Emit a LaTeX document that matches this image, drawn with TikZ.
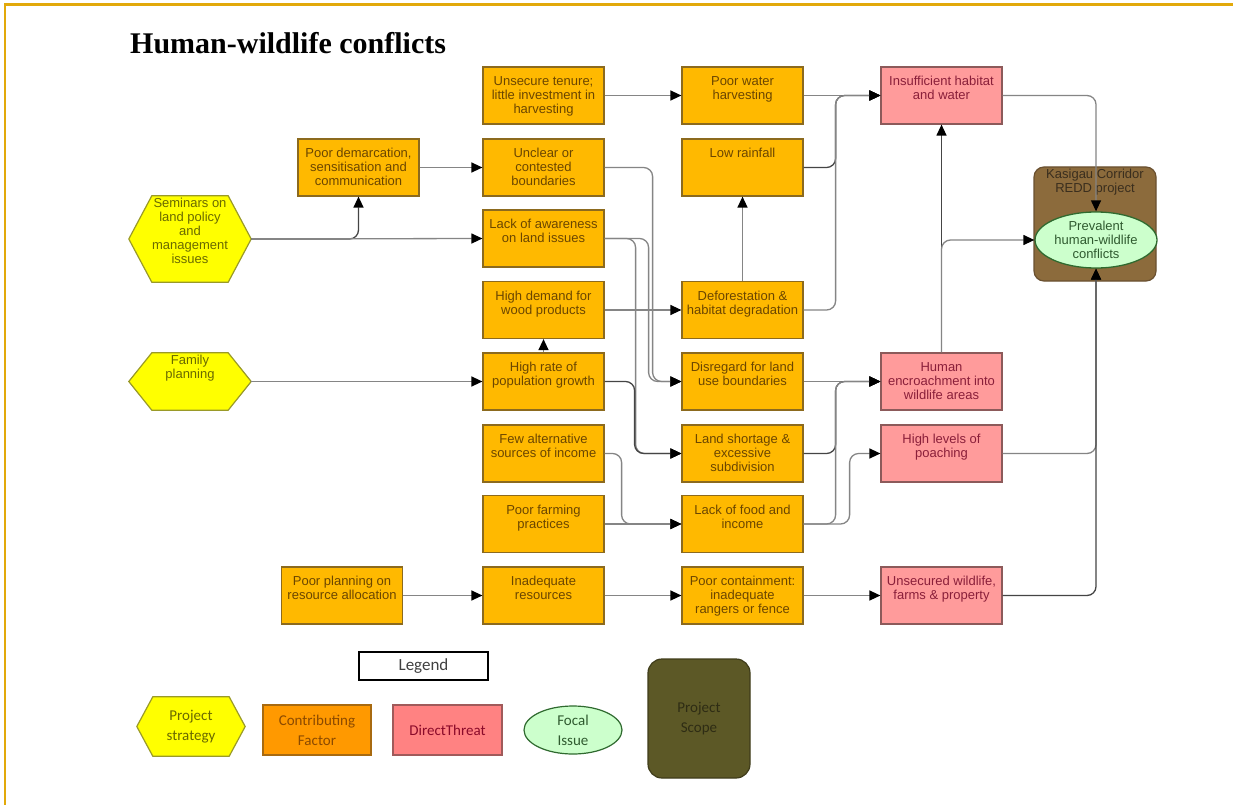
\documentclass[tikz,border=0pt]{standalone}
\usepackage{fontspec}
\setmainfont{Liberation Sans}
\newfontfamily\calf{Carlito}
\newfontfamily\titlef{Liberation Serif}
\usetikzlibrary{arrows.meta,shapes.geometric}
\pgfdeclarelayer{bgw}
\pgfdeclarelayer{bg}
\pgfsetlayers{bgw,bg,main}
\definecolor{orfill}{HTML}{FFB900}
\definecolor{orline}{HTML}{8C6A1E}
\definecolor{ortext}{HTML}{6B4600}
\definecolor{pkfill}{HTML}{FF9B9B}
\definecolor{pkline}{HTML}{8C5A5A}
\definecolor{pktext}{HTML}{8A1F3A}
\definecolor{hxfill}{HTML}{FFFF00}
\definecolor{hxline}{HTML}{9A9A28}
\definecolor{hxtext}{HTML}{6A6A00}
\definecolor{kbfill}{HTML}{8C6B3C}
\definecolor{kbline}{HTML}{6A5030}
\definecolor{kbtext}{HTML}{3A2E1E}
\definecolor{elfill}{HTML}{CCFFCC}
\definecolor{elline}{HTML}{2F6A2F}
\definecolor{eltext}{HTML}{2F5A2F}
\definecolor{conncol}{HTML}{858585}
\definecolor{darkconn}{HTML}{454545}
\definecolor{goldc}{HTML}{E2A90A}
\definecolor{lgor}{HTML}{FF9900}
\definecolor{lgorl}{HTML}{A86A10}
\definecolor{lgort}{HTML}{8B4A00}
\definecolor{lgpk}{HTML}{FF8282}
\definecolor{lgpkl}{HTML}{A05A5A}
\definecolor{lgpkt}{HTML}{8B0A2A}
\definecolor{lgsc}{HTML}{5C5826}
\definecolor{lgscl}{HTML}{3F3C1A}
\definecolor{lgsct}{HTML}{2E2C14}
\newcommand\bxt[1]{\parbox[c][57pt][t]{121pt}{\centering\rule{0pt}{18.5pt}#1}}
\newcommand\hexpath[2]{%
 \begin{pgfonlayer}{bg}
 \draw[hexdraw] (#1.west) -- ([xshift=#2]#1.north west) -- ([xshift=-#2]#1.north east) -- (#1.east) -- ([xshift=-#2]#1.south east) -- ([xshift=#2]#1.south west) -- cycle;
 \end{pgfonlayer}}
\begin{document}
\begin{tikzpicture}[x=1pt,y=-1pt,
 box/.style={draw=orline, fill=orfill, line width=1.2pt, inner sep=0pt, minimum width=121pt, minimum height=57pt, text=ortext, font=\fontsize{13}{14}\selectfont},
 pbox/.style={box, draw=pkline, fill=pkfill, text=pktext},
 hexn/.style={inner sep=0pt, minimum width=122pt, text=hxtext, font=\fontsize{13}{14}\selectfont},
 hexdraw/.style={draw=hxline, fill=hxfill, line width=1.2pt},
 conn/.style={draw=conncol, line width=1.3pt, rounded corners=9pt, -{Triangle[length=11pt,width=10pt,color=black]}},
 dconn/.style={conn, draw=darkconn},
 lgtext/.style={font=\calf\fontsize{15}{20}\selectfont, align=center, inner sep=0pt}
]
\begin{pgfonlayer}{bgw}
\fill[white] (0,0) rectangle (1233,805);
\end{pgfonlayer}
\useasboundingbox (0,0) rectangle (1233,805);
\draw[goldc, line width=2.5pt] (5,805) -- (5,4.5) -- (1233,4.5);

\node[anchor=base west, inner sep=0pt, font=\titlef\bfseries\fontsize{30}{32}\selectfont] (title) at (130,54) {Human-wildlife conflicts};

% factor boxes
\node[box] (ten) at (543.5,95.5) {\bxt{Unsecure tenure;\\little investment in\\harvesting}};
\node[box] (pwh) at (742.5,95.5) {\bxt{Poor water\\harvesting}};
\node[pbox] (ins) at (941.5,95.5) {\bxt{Insufficient habitat\\and water}};
\node[box] (dem) at (358.5,167.5) {\bxt{Poor demarcation,\\sensitisation and\\communication}};
\node[box] (unc) at (543.5,167.5) {\bxt{Unclear or\\contested\\boundaries}};
\node[box] (low) at (742.5,167.5) {\bxt{Low rainfall}};
\node[box] (law) at (543.5,238.5) {\bxt{Lack of awareness\\on land issues}};
\node[box] (hdw) at (543.5,310) {\bxt{High demand for\\wood products}};
\node[box] (def) at (742.5,310) {\bxt{Deforestation \&\\habitat degradation}};
\node[box] (hrp) at (543.5,381.5) {\bxt{High rate of\\population growth}};
\node[box] (dis) at (742.5,381.5) {\bxt{Disregard for land\\use boundaries}};
\node[pbox] (enc) at (941.5,381.5) {\bxt{Human\\encroachment into\\wildlife areas}};
\node[box] (few) at (543.5,453.5) {\bxt{Few alternative\\sources of income}};
\node[box] (lsh) at (742.5,453.5) {\bxt{Land shortage \&\\excessive\\subdivision}};
\node[pbox] (poa) at (941.5,453.5) {\bxt{High levels of\\poaching}};
\node[box] (pfp) at (543.5,524) {\bxt{Poor farming\\practices}};
\node[box] (lfi) at (742.5,524) {\bxt{Lack of food and\\income}};
\node[box] (ppr) at (342,595.5) {\bxt{Poor planning on\\resource allocation}};
\node[box] (inr) at (543.5,595.5) {\bxt{Inadequate\\resources}};
\node[box] (pcn) at (742.5,595.5) {\bxt{Poor containment:\\inadequate\\rangers or fence}};
\node[pbox] (uns) at (941.5,595.5) {\bxt{Unsecured wildlife,\\farms \& property}};

% strategies
\node[hexn, minimum height=86pt] (sem) at (190,239) {\parbox[c][86pt][t]{122pt}{\centering\rule{0pt}{11.5pt}Seminars on\\land policy\\and\\management\\issues}};
\hexpath{sem}{23pt}
\node[hexn, minimum height=57pt] (fam) at (190,381.5) {\parbox[c][57pt][t]{122pt}{\centering\rule{0pt}{11.5pt}Family\\planning}};
\hexpath{fam}{23pt}

% scope and focal issue
\node[draw=kbline, fill=kbfill, line width=1.2pt, rounded corners=10pt, inner sep=0pt, minimum width=122pt, minimum height=114pt, text=kbtext, font=\fontsize{13}{14}\selectfont] (kas) at (1095,224) {\parbox[c][114pt][t]{122pt}{\centering\rule{0pt}{11.5pt}Kasigau Corridor\\REDD project}};
\node[ellipse, draw=elline, fill=elfill, line width=1.3pt, minimum width=122pt, minimum height=56pt, inner sep=0pt, text=eltext, align=center, font=\fontsize{13}{14}\selectfont] (foc) at (1096,240) {Prevalent\\human-wildlife\\conflicts};

% connectors
\draw[conn] (ten.east) -- (pwh.west);
\draw[conn] (pwh.east) -- (ins.west);
\draw[dconn] (low.east) -- ++(32,0) |- (ins.west);
\draw[conn] (def.east) -- ++(32,0) |- (ins.west);
\draw[conn] (dem.east) -- (unc.west);
\draw[dconn] (sem.east) -| (dem.south);
\draw[conn] (sem.east) -- (law.west);
\draw[conn] (fam.east) -- (hrp.west);
\draw[conn] (hrp.north) -- (hdw.south);
\draw[conn] (hdw.east) -- (def.west);
\draw[conn] (def.north) -- (low.south);
\draw[conn] (unc.east) -- ++(48,0) |- (dis.west);
\draw[conn] (law.east) -- ++(44,0) |- (dis.west);
\draw[conn] (law.east) -- ++(31,0) |- (lsh.west);
\draw[dconn] (hrp.east) -- ++(30,0) |- (lsh.west);
\draw[conn] (few.east) -- ++(17,0) |- (lfi.west);
\draw[conn] (pfp.east) -- (lfi.west);
\draw[conn] (dis.east) -- (enc.west);
\draw[dconn] (lsh.east) -- ++(32,0) |- (enc.west);
\draw[conn] (lfi.east) -- ++(32,0) |- (enc.west);
\draw[conn] (lfi.east) -- ++(46,0) |- (poa.west);
\draw[dconn] (enc.north) -- (ins.south);
\draw[conn] (enc.north) |- (foc.west);
\draw[conn] (ins.east) -| (foc.north);
\draw[conn] (poa.east) -| (foc.south);
\draw[dconn] (uns.east) -| (foc.south);
\draw[conn] (ppr.east) -- (inr.west);
\draw[conn] (inr.east) -- (pcn.west);
\draw[conn] (pcn.east) -- (uns.west);

% legend
\node[draw=black, line width=2.5pt, minimum width=129pt, minimum height=28pt, inner sep=0pt, font=\calf\fontsize{17}{20}\selectfont, text=black!75] (leg) at (423.5,666) {Legend};
\node[lgtext, minimum width=108pt, minimum height=59pt, text=hxtext] (lgh) at (191,726.5) {Project\\strategy};
\hexpath{lgh}{16pt}
\node[lgtext, draw=lgorl, fill=lgor, line width=1.2pt, minimum width=108pt, minimum height=50pt, text=lgort] (lgc) at (317,730) {Contributing\\Factor};
\node[lgtext, draw=lgpkl, fill=lgpk, line width=1.2pt, minimum width=109pt, minimum height=50pt, text=lgpkt] (lgd) at (447.5,730) {DirectThreat};
\node[lgtext, ellipse, draw=elline, fill=elfill, line width=1.2pt, minimum width=98pt, minimum height=48pt, text=eltext] (lgf) at (573,730) {Focal\\Issue};
\node[lgtext, draw=lgscl, fill=lgsc, line width=1.2pt, rounded corners=14pt, minimum width=102pt, minimum height=119pt, text=lgsct] (lgp) at (699,718.5) {Project\\Scope};
\end{tikzpicture}
\end{document}
